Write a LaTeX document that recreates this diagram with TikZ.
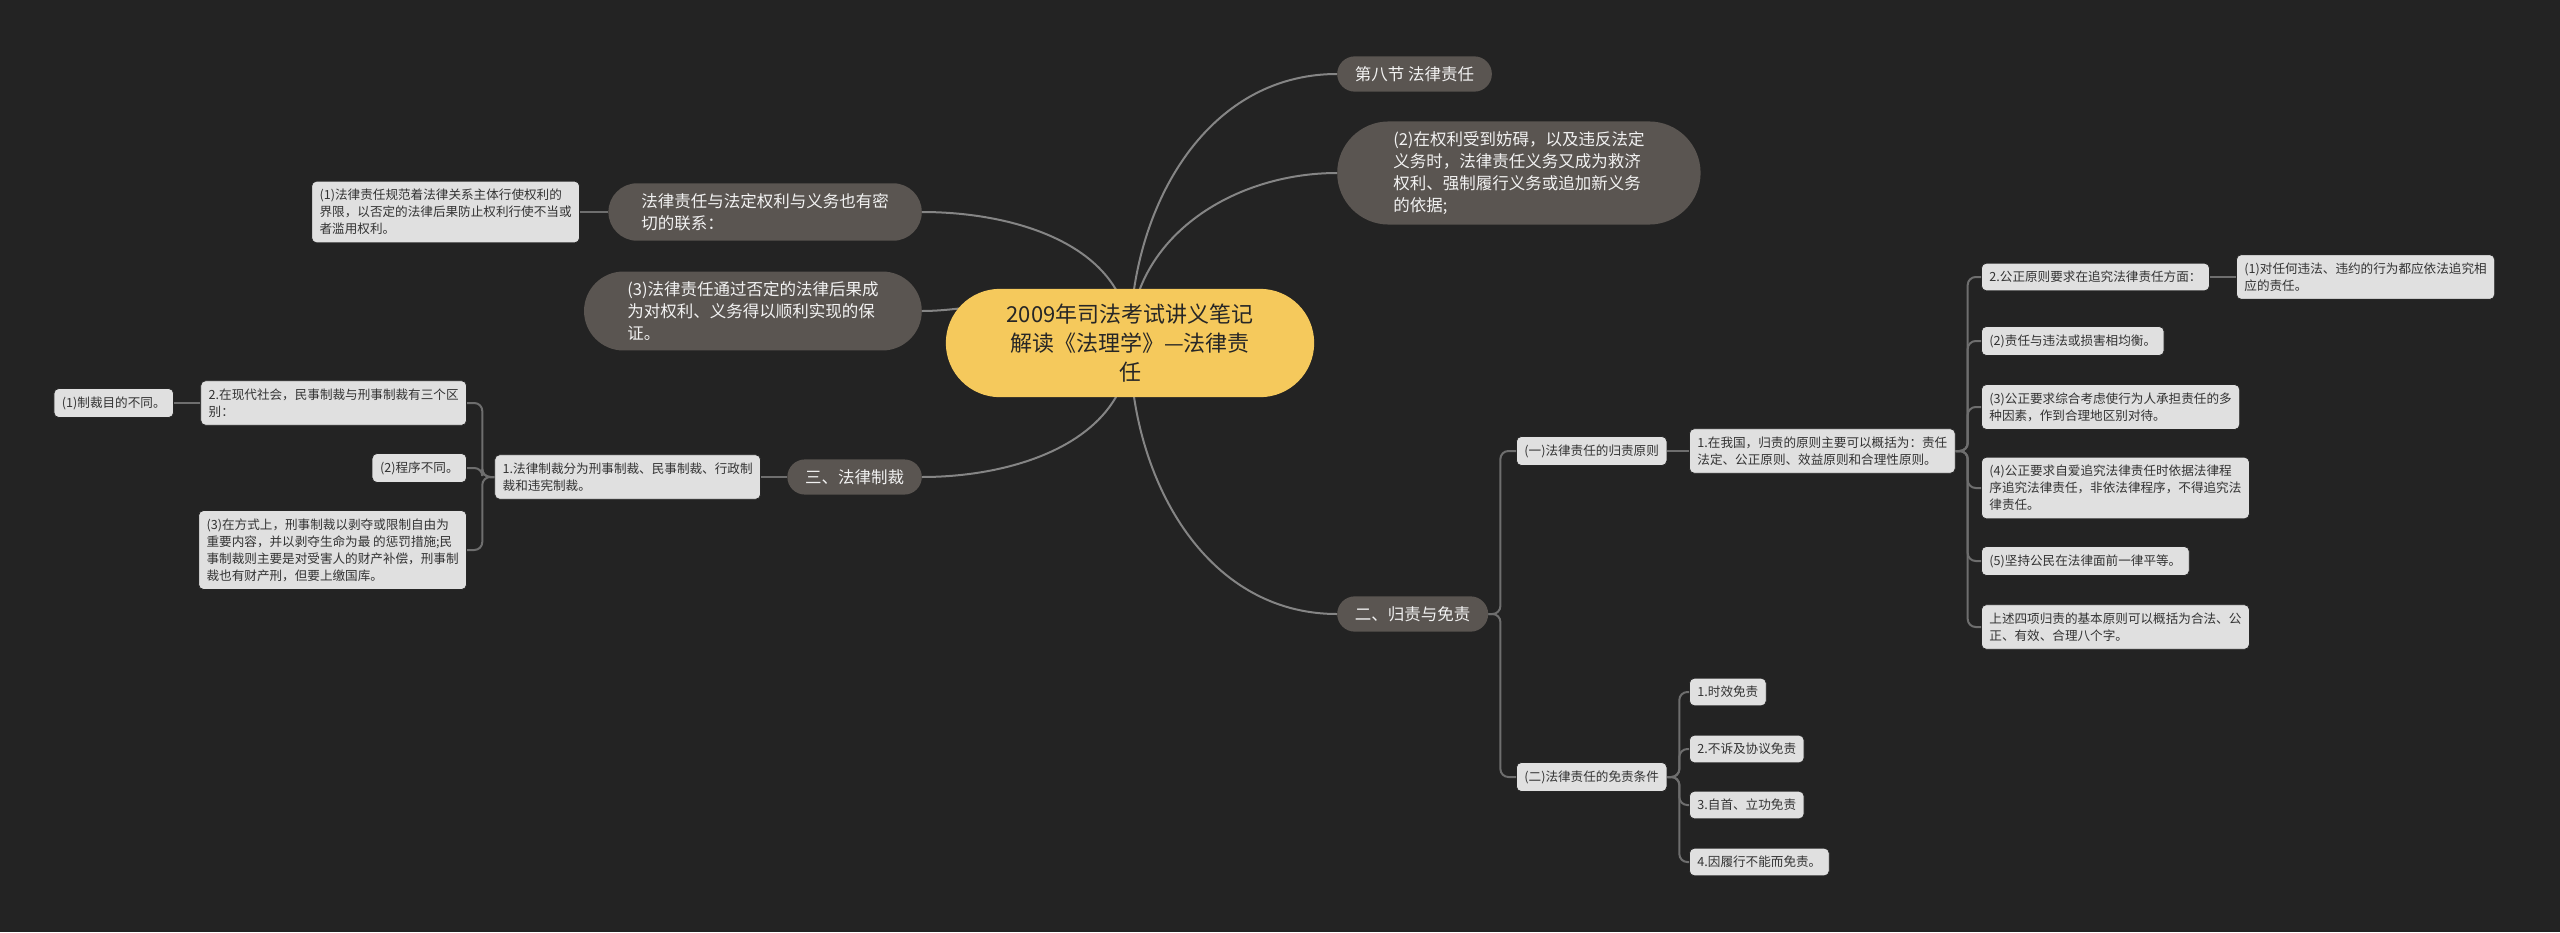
\documentclass[tikz,border=0pt]{standalone}
\usepackage{fontspec}
\setmainfont{Noto Sans CJK SC}
\usetikzlibrary{shapes.misc,backgrounds}
\definecolor{bgcol}{HTML}{232323}
\definecolor{rootcol}{HTML}{F5C95C}
\definecolor{topcol}{HTML}{5A5551}
\definecolor{leafcol}{HTML}{E0E0E0}
\definecolor{linecol}{HTML}{6E6E6E}
\definecolor{curvecol}{HTML}{858585}
\tikzset{
  root/.style={rounded rectangle, fill=rootcol, text=black!85, inner xsep=44pt, inner ysep=15pt,
    align=center, font=\fontsize{22}{29}\selectfont},
  topic/.style={rounded rectangle, fill=topcol, text=white!95!black, inner xsep=16pt, inner ysep=10pt,
    align=left, font=\fontsize{16.5}{22}\selectfont},
  leaf/.style={rectangle, rounded corners=5pt, fill=leafcol, draw=black!85, line width=0.8pt,
    text=black!80, inner sep=8pt, align=left, font=\fontsize{12.6}{17}\selectfont},
  curve/.style={draw=curvecol, line width=2pt},
  elbow/.style={draw=linecol, line width=2pt, rounded corners=8pt},
}
\begin{document}
\begin{tikzpicture}[x=1pt,y=-1pt]
\useasboundingbox (0,0) rectangle (2560,932);
\begin{scope}[on background layer]
\fill[bgcol] (0,0) rectangle (2560,932);
\end{scope}
% centre
\node[root] (root) at (1130,343) {2009年司法考试讲义笔记\\解读《法理学》—法律责\\任};
% right side
\node[topic, anchor=west] (sec8) at (1337,74) {第八节 法律责任};
\node[topic, anchor=west, inner xsep=35pt] (duty) at (1337,173) {(2)在权利受到妨碍，以及违反法定\\义务时，法律责任义务又成为救济\\权利、强制履行义务或追加新义务\\的依据;};
\node[topic, anchor=west] (blame) at (1337,614) {二、归责与免责};
% left side
\node[topic, anchor=east, inner xsep=26pt] (link) at (922,212) {法律责任与法定权利与义务也有密\\切的联系：};
\node[topic, anchor=east, inner xsep=30pt] (guard) at (922,311) {(3)法律责任通过否定的法律后果成\\为对权利、义务得以顺利实现的保\\证。};
\node[topic, anchor=east] (sanct) at (922,477) {三、法律制裁};
\node[leaf, anchor=east] (limit) at (580,212) {(1)法律责任规范着法律关系主体行使权利的\\界限，以否定的法律后果防止权利行使不当或\\者滥用权利。};
\node[leaf, anchor=east] (kinds) at (761,477) {1.法律制裁分为刑事制裁、民事制裁、行政制\\裁和违宪制裁。};
\node[leaf, anchor=east] (diffs) at (467,403) {2.在现代社会，民事制裁与刑事制裁有三个区\\别：};
\node[leaf, anchor=east] (aim) at (174,403) {(1)制裁目的不同。};
\node[leaf, anchor=east] (proc) at (467,468) {(2)程序不同。};
\node[leaf, anchor=east] (mode) at (467,550) {(3)在方式上，刑事制裁以剥夺或限制自由为\\重要内容，并以剥夺生命为最 的惩罚措施;民\\事制裁则主要是对受害人的财产补偿，刑事制\\裁也有财产刑，但要上缴国库。};
% 二、归责与免责
\node[leaf, anchor=west] (prin) at (1516,451) {(一)法律责任的归责原则};
\node[leaf, anchor=west] (exem) at (1516,777) {(二)法律责任的免责条件};
\node[leaf, anchor=west] (china) at (1689,451) {1.在我国，归责的原则主要可以概括为：责任\\法定、公正原则、效益原则和合理性原则。};
\node[leaf, anchor=west] (fair) at (1981,277) {2.公正原则要求在追究法律责任方面：};
\node[leaf, anchor=west] (fair1) at (2236,277) {(1)对任何违法、违约的行为都应依法追究相\\应的责任。};
\node[leaf, anchor=west] (fair2) at (1981,341) {(2)责任与违法或损害相均衡。};
\node[leaf, anchor=west] (fair3) at (1981,407) {(3)公正要求综合考虑使行为人承担责任的多\\种因素，作到合理地区别对待。};
\node[leaf, anchor=west] (fair4) at (1981,488) {(4)公正要求自爱追究法律责任时依据法律程\\序追究法律责任，非依法律程序，不得追究法\\律责任。};
\node[leaf, anchor=west] (fair5) at (1981,561) {(5)坚持公民在法律面前一律平等。};
\node[leaf, anchor=west] (sum) at (1981,627) {上述四项归责的基本原则可以概括为合法、公\\正、有效、合理八个字。};
\node[leaf, anchor=west] (ex1) at (1689,692) {1.时效免责};
\node[leaf, anchor=west] (ex2) at (1689,749) {2.不诉及协议免责};
\node[leaf, anchor=west] (ex3) at (1689,805) {3.自首、立功免责};
\node[leaf, anchor=west] (ex4) at (1689,862) {4.因履行不能而免责。};
% connectors
\begin{scope}[on background layer]
\draw[curve] (root.center) to[out=90,in=180] (sec8.west);
\draw[curve] (root.center) to[out=90,in=180] (duty.west);
\draw[curve] (root.center) to[out=-90,in=180] (blame.west);
\draw[curve] (root.center) to[out=90,in=0] (link.east);
\draw[curve] (root.center) to[out=90,in=0] (guard.east);
\draw[curve] (root.center) to[out=-90,in=0] (sanct.east);
\end{scope}
\draw[elbow] (link.west) -- (limit.east);
\draw[elbow] (sanct.west) -- (kinds.east);
\draw[elbow] (kinds.west) -- ++(-12,0) |- (diffs.east);
\draw[elbow] (kinds.west) -- ++(-12,0) |- (proc.east);
\draw[elbow] (kinds.west) -- ++(-12,0) |- (mode.east);
\draw[elbow] (diffs.west) -- (aim.east);
\draw[elbow] (blame.east) -- ++(12,0) |- (prin.west);
\draw[elbow] (blame.east) -- ++(12,0) |- (exem.west);
\draw[elbow] (prin.east) -- (china.west);
\draw[elbow] (china.east) -- ++(12,0) |- (fair.west);
\draw[elbow] (china.east) -- ++(12,0) |- (fair2.west);
\draw[elbow] (china.east) -- ++(12,0) |- (fair3.west);
\draw[elbow] (china.east) -- ++(12,0) |- (fair4.west);
\draw[elbow] (china.east) -- ++(12,0) |- (fair5.west);
\draw[elbow] (china.east) -- ++(12,0) |- (sum.west);
\draw[elbow] (fair.east) -- (fair1.west);
\draw[elbow] (exem.east) -- ++(12,0) |- (ex1.west);
\draw[elbow] (exem.east) -- ++(12,0) |- (ex2.west);
\draw[elbow] (exem.east) -- ++(12,0) |- (ex3.west);
\draw[elbow] (exem.east) -- ++(12,0) |- (ex4.west);
\end{tikzpicture}
\end{document}
